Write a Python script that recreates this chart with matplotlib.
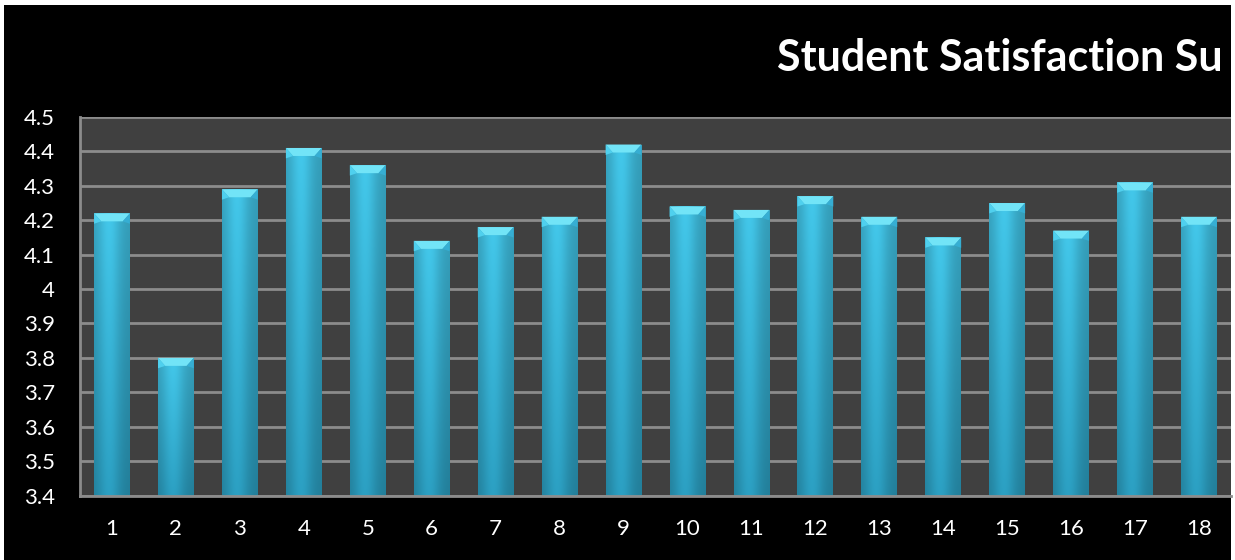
import matplotlib
matplotlib.use("Agg")
import matplotlib.pyplot as plt
import numpy as np
from matplotlib.patches import Rectangle, Polygon
from matplotlib.colors import to_rgb

categories = [str(i) for i in range(1, 19)]
scores = [4.22, 3.80, 4.29, 4.41, 4.36, 4.14, 4.18, 4.21, 4.42,
          4.24, 4.23, 4.27, 4.21, 4.15, 4.25, 4.17, 4.31, 4.21]
y_ticks = [3.4, 3.5, 3.6, 3.7, 3.8, 3.9, 4.0, 4.1, 4.2, 4.3, 4.4, 4.5]
y_tick_labels = ["3.4", "3.5", "3.6", "3.7", "3.8", "3.9", "4", "4.1", "4.2", "4.3", "4.4", "4.5"]
title = "Student Satisfaction Su"

W, H = 1235, 560
fig = plt.figure(figsize=(W / 100, H / 100), dpi=100, facecolor="white")
bg = Rectangle((4 / W, 0), (1231 - 4) / W, (H - 5) / H,
               transform=fig.transFigure, facecolor="black",
               edgecolor="none", zorder=-5)
fig.patches.append(bg)

ax = fig.add_axes([80 / W, 1 - 495.5 / H, (1231 - 80) / W, (495.5 - 117) / H])
ax.set_facecolor("#404040")
x = np.arange(len(categories))
ymin, ymax = 3.4, 4.5

ax.set_yticks(y_ticks)
ax.set_yticklabels(y_tick_labels)
ax.set_xticks(x)
ax.set_xticklabels(categories)
ax.yaxis.grid(True, color="#8c8c8c", linewidth=2)
ax.set_axisbelow(True)
ax.tick_params(axis="both", length=0, colors="white", labelsize=16)
ax.tick_params(axis="y", pad=18)
ax.tick_params(axis="x", pad=17)
for lab in ax.get_xticklabels() + ax.get_yticklabels():
    lab.set_fontfamily("Lato")
for s in ["top", "right"]:
    ax.spines[s].set_visible(False)
for s in ["left", "bottom"]:
    ax.spines[s].set_color("#8c8c8c")
    ax.spines[s].set_linewidth(2)

bw = 0.56
bars = ax.bar(x, np.array(scores) - ymin, bottom=ymin, width=bw,
              color="#36aed2", edgecolor="none", zorder=2)

# shaded body: vertical (lighter top) x horizontal (darker edges)
top_c = np.array(to_rgb("#42c4e6"))
bot_c = np.array(to_rgb("#2b9dbf"))
ny, nx = 64, 64
t = np.linspace(0, 1, ny)[:, None, None]          # 0 top -> 1 bottom
col = top_c * (1 - t) + bot_c * t
u = np.linspace(0, 1, nx)
hfac = 0.80 + 0.22 * np.exp(-((u - 0.42) / 0.32) ** 2)
hfac = np.clip(hfac, 0, 1.05)
img = np.clip(col * hfac[None, :, None], 0, 1)

ypix = (ymax - ymin) / 378.5
cap_h = 8 * ypix
for b, v in zip(bars, scores):
    x0 = b.get_x()
    w = b.get_width()
    im = ax.imshow(img, extent=[x0, x0 + w, ymin, v], origin="upper",
                   aspect="auto", zorder=3, interpolation="bilinear")
    im.set_clip_path(b)
    inset = 0.20 * w
    cap = Polygon([[x0, v], [x0 + w, v], [x0 + w - inset, v - cap_h],
                   [x0 + inset, v - cap_h]], closed=True,
                  facecolor="#72e4f7", edgecolor="none", zorder=4)
    ax.add_patch(cap)
    lside = Polygon([[x0, v], [x0 + inset, v - cap_h], [x0, v - cap_h * 1.3]],
                    closed=True, facecolor="#4fd0ee", edgecolor="none", zorder=4)
    rside = Polygon([[x0 + w, v], [x0 + w - inset, v - cap_h], [x0 + w, v - cap_h * 1.3]],
                    closed=True, facecolor="#36aed3", edgecolor="none", zorder=4)
    ax.add_patch(lside)
    ax.add_patch(rside)

ax.set_xlim(-0.5, len(categories) - 0.5)
ax.set_ylim(ymin, ymax)

fig.text(777 / W, 1 - 71 / H, title, color="white", fontsize=31,
         fontweight="bold", fontfamily="Lato", ha="left", va="baseline")

fig.savefig("out.png", dpi=100, facecolor=fig.get_facecolor())
